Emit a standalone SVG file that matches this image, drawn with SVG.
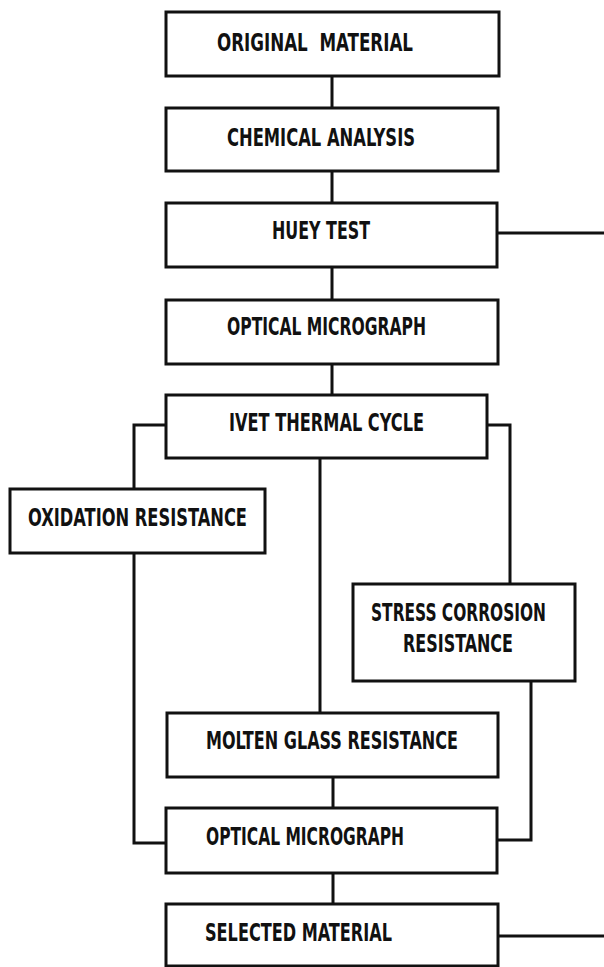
<svg xmlns="http://www.w3.org/2000/svg" width="604" height="967" viewBox="0 0 604 967">
<style>
.box{fill:#fff;stroke:#111;stroke-width:3}
.ln{fill:none;stroke:#111;stroke-width:3}
.t{font-family:"DejaVu Sans Condensed","Liberation Sans",sans-serif;font-weight:bold;font-size:25px;fill:#111}
</style>
<rect width="604" height="967" fill="#fff"/>
<g id="connectors">
<path class="ln" d="M332 76V108M332 171V203M332 267V300M332 364V395"/>
<path class="ln" d="M497 233H606"/>
<path class="ln" d="M166 425H134V489"/>
<path class="ln" d="M487 425H510V584"/>
<path class="ln" d="M320 458V713"/>
<path class="ln" d="M134 553V843H166"/>
<path class="ln" d="M531 681V840H497"/>
<path class="ln" d="M333 777V808M333 873V904"/>
<path class="ln" d="M498 936H606"/>
</g>
<g id="n1"><rect class="box" x="166" y="12" width="333" height="64"/><text class="t" x="217" y="51" textLength="196" lengthAdjust="spacingAndGlyphs" xml:space="preserve">ORIGINAL  MATERIAL</text></g>
<g id="n2"><rect class="box" x="166" y="108" width="332" height="63"/><text class="t" x="227" y="146" textLength="188" lengthAdjust="spacingAndGlyphs">CHEMICAL ANALYSIS</text></g>
<g id="n3"><rect class="box" x="166" y="203" width="331" height="64"/><text class="t" x="272" y="239" textLength="98" lengthAdjust="spacingAndGlyphs">HUEY TEST</text></g>
<g id="n4"><rect class="box" x="166" y="300" width="332" height="64"/><text class="t" x="227" y="335" textLength="199" lengthAdjust="spacingAndGlyphs">OPTICAL MICROGRAPH</text></g>
<g id="n5"><rect class="box" x="166" y="395" width="321" height="63"/><text class="t" x="229" y="431" textLength="195" lengthAdjust="spacingAndGlyphs">IVET THERMAL CYCLE</text></g>
<g id="n6"><rect class="box" x="10" y="489" width="255" height="64"/><text class="t" x="28" y="526" textLength="219" lengthAdjust="spacingAndGlyphs">OXIDATION RESISTANCE</text></g>
<g id="n7"><rect class="box" x="353" y="584" width="222" height="97"/><text class="t" x="371" y="621" textLength="175" lengthAdjust="spacingAndGlyphs">STRESS CORROSION</text><text class="t" x="403" y="652" textLength="110" lengthAdjust="spacingAndGlyphs">RESISTANCE</text></g>
<g id="n8"><rect class="box" x="167" y="713" width="331" height="64"/><text class="t" x="206" y="749" textLength="252" lengthAdjust="spacingAndGlyphs">MOLTEN GLASS RESISTANCE</text></g>
<g id="n9"><rect class="box" x="166" y="808" width="331" height="65"/><text class="t" x="206" y="845" textLength="198" lengthAdjust="spacingAndGlyphs">OPTICAL MICROGRAPH</text></g>
<g id="n10"><rect class="box" x="166" y="904" width="332" height="62"/><text class="t" x="205" y="941" textLength="187" lengthAdjust="spacingAndGlyphs">SELECTED MATERIAL</text></g>
</svg>
